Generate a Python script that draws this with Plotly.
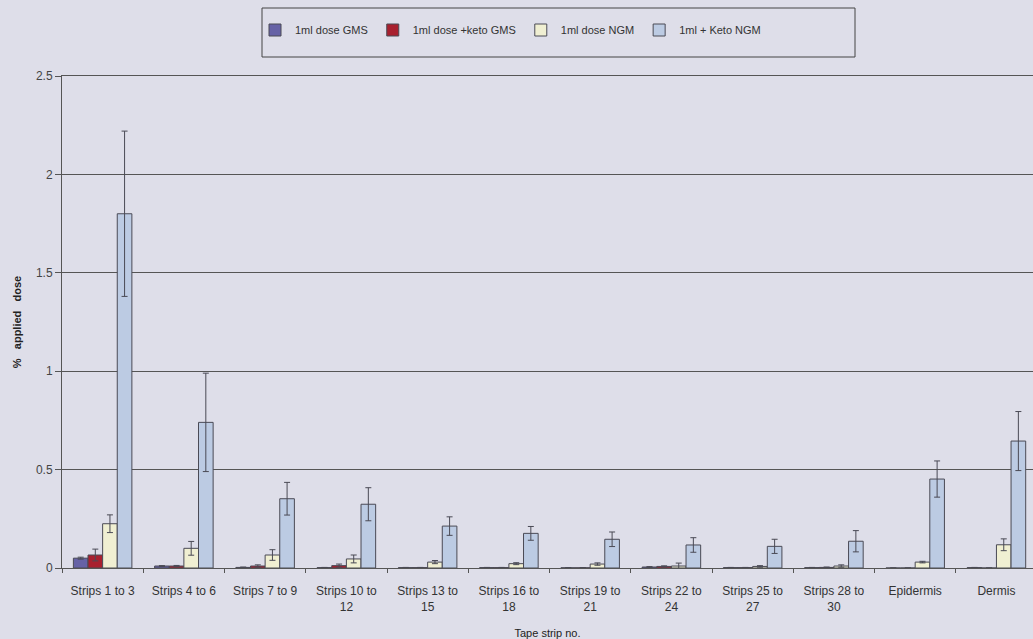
import plotly.graph_objects as go

categories = ["Strips 1 to 3", "Strips 4 to 6", "Strips 7 to 9", "Strips 10 to<br>12",
              "Strips 13 to<br>15", "Strips 16 to<br>18", "Strips 19 to<br>21", "Strips 22 to<br>24",
              "Strips 25 to<br>27", "Strips 28 to<br>30", "Epidermis", "Dermis"]

gms = [0.05, 0.01, 0.003, 0.002, 0.002, 0.002, 0.001, 0.005, 0.002, 0.002, 0.0, 0.002]
gms_err = [0.005, 0.002, 0.002, 0.001, 0.001, 0.001, 0.001, 0.002, 0.001, 0.001, 0.0, 0.001]
keto_gms = [0.066, 0.01, 0.01, 0.012, 0.002, 0.002, 0.001, 0.008, 0.002, 0.003, 0.0, 0.0]
keto_gms_err = [0.03, 0.003, 0.006, 0.008, 0.001, 0.001, 0.001, 0.003, 0.001, 0.002, 0.0, 0.0]
ngm = [0.225, 0.10, 0.066, 0.046, 0.03, 0.022, 0.02, 0.01, 0.008, 0.01, 0.03, 0.118]
ngm_err = [0.045, 0.035, 0.027, 0.02, 0.008, 0.005, 0.006, 0.015, 0.004, 0.006, 0.004, 0.03]
keto_ngm = [1.80, 0.74, 0.352, 0.324, 0.213, 0.176, 0.146, 0.117, 0.11, 0.136, 0.452, 0.645]
keto_ngm_err = [0.42, 0.25, 0.083, 0.084, 0.047, 0.035, 0.037, 0.037, 0.036, 0.054, 0.092, 0.15]

names = ["1ml dose GMS", "1ml dose +keto GMS", "1ml dose NGM", "1ml + Keto NGM"]
colors = ["#6662a6", "#a8202f", "#f0efd2", "#bccbe3"]
series = [(gms, gms_err), (keto_gms, keto_gms_err), (ngm, ngm_err), (keto_ngm, keto_ngm_err)]

BG = "#dedee9"

fig = go.Figure()
for name, color, (vals, errs) in zip(names, colors, series):
    fig.add_trace(go.Bar(
        x=categories, y=vals, name=name,
        marker=dict(color=color, line=dict(color="#4a4a55", width=1)),
        error_y=dict(type="data", array=errs, visible=True, color="#4a4a55", thickness=1, width=3),
        cliponaxis=False,
    ))

W, H = 1033, 639
L, R, T, B = 62, 0, 76, 71
pw, ph = W - L - R, H - T - B

def px_x(x):
    return (x - L) / pw

def px_y(y):
    return (H - B - y) / ph

fig.add_shape(type="rect", xref="paper", yref="paper",
              x0=px_x(262), x1=px_x(855), y0=px_y(57), y1=px_y(8),
              line=dict(color="#444444", width=1), fillcolor="rgba(0,0,0,0)")

fig.update_layout(
    width=W, height=H,
    paper_bgcolor=BG, plot_bgcolor=BG,
    font=dict(family="Liberation Sans, Arial, sans-serif", size=11, color="#333333"),
    barmode="group", bargap=0.28, bargroupgap=0,
    margin=dict(l=L, r=R, t=T, b=B, autoexpand=False),
    legend=dict(orientation="h", x=px_x(255), y=px_y(30), xanchor="left", yanchor="middle",
                borderwidth=0, bgcolor="rgba(0,0,0,0)",
                font=dict(size=11, color="#333333"), itemwidth=30),
    showlegend=True,
)
fig.update_xaxes(range=[-0.5, 11.45], tickson="boundaries", ticks="outside", ticklen=4,
                 tickcolor="#555555", showline=True, linecolor="#555555", linewidth=1,
                 mirror=True, tickangle=0, tickfont=dict(size=12, color="#333333"), automargin=False,
                 ticklabelstandoff=12,
                 title=dict(text="Tape strip no.", font=dict(size=11, color="#222222"), standoff=18))
fig.update_yaxes(range=[0, 2.5], dtick=0.5, showgrid=True, gridcolor="#555555", gridwidth=1,
                 showline=True, linecolor="#555555", ticks="outside", ticklen=6, tickcolor="#555555",
                 tickfont=dict(size=12, color="#444444"), zeroline=False, automargin=False,
                 title=dict(text="<b>%   applied   dose</b>", font=dict(size=11, color="#222222"), standoff=12))

fig.write_html("out.html", config={"displayModeBar": False},
               post_script="document.body.style.margin='0';document.body.style.background='" + BG + "';document.body.style.overflow='hidden';")
